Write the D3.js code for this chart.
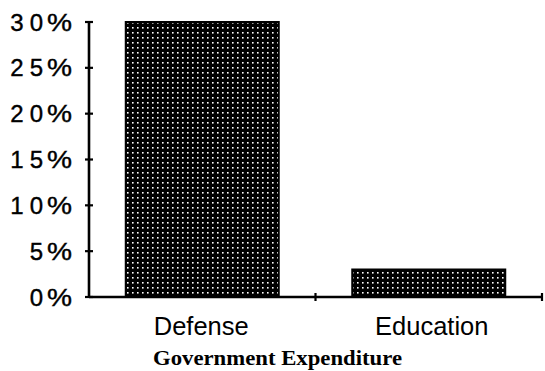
<!DOCTYPE html>
<html><head><meta charset="utf-8">
<script src="https://cdn.jsdelivr.net/npm/d3@7"></script>
<style>html,body{margin:0;padding:0;background:#fff;}svg{display:block;}</style>
</head><body>
<script>
const categories = ["Defense", "Education"];
const values = [30, 3];
const yTicks = [0, 5, 10, 15, 20, 25, 30];
const yTickLabels = ["0%", "5%", "10%", "15%", "20%", "25%", "30%"];
const xTitle = "Government Expenditure";

const W = 545, H = 371;
const svg = d3.select("body").append("svg").attr("width", W).attr("height", H);

const defs = svg.append("defs");
const pat = defs.append("pattern").attr("id", "dots").attr("patternUnits", "userSpaceOnUse")
  .attr("width", 5).attr("height", 5);
pat.append("rect").attr("width", 5).attr("height", 5).attr("fill", "#000");
pat.append("rect").attr("x", 2).attr("y", 2).attr("width", 1.6).attr("height", 1.6).attr("fill", "#fff");

const x0 = 89, x1 = 542, yTop = 22, yBot = 297;
const x = d3.scaleBand().domain(categories).range([x0, x1]).paddingInner(0).paddingOuter(0);
const y = d3.scaleLinear().domain([0, 30]).range([yBot, yTop]);
const barW = 153;

// bars
svg.selectAll("rect.bar").data(categories).enter().append("rect")
  .attr("class", "bar")
  .attr("x", (d) => x(d) + x.bandwidth() / 2 - barW / 2)
  .attr("y", (d, i) => y(values[i]))
  .attr("width", barW)
  .attr("height", (d, i) => y(0) - y(values[i]))
  .attr("fill", "url(#dots)")
  .attr("stroke", "#000").attr("stroke-width", 2);

// y axis labels (digits in fixed cells, % sign after)
const font = "Liberation Sans, Arial, sans-serif";
const gy = svg.append("g");
yTicks.forEach((t, i) => {
  const lab = yTickLabels[i];
  const digits = lab.replace("%", "").split("");
  const yy = y(t);
  digits.forEach((ch, k) => {
    const fromRight = digits.length - 1 - k;
    gy.append("text")
      .attr("x", x0 - 52.5 - 19.5 * fromRight).attr("y", yy).attr("dy", "0.36em")
      .attr("text-anchor", "middle")
      .attr("font-family", font).attr("font-size", 24).attr("fill", "#000")
      .attr("stroke", "#000").attr("stroke-width", 0.4)
      .text(ch);
  });
  gy.append("text")
    .attr("x", x0 - 42).attr("y", yy).attr("dy", "0.36em")
    .attr("font-family", font).attr("font-size", 24).attr("fill", "#000")
    .attr("stroke", "#000").attr("stroke-width", 0.4)
    .attr("textLength", 25).attr("lengthAdjust", "spacingAndGlyphs")
    .text("%");
});
svg.append("line").attr("x1", x0).attr("x2", x0).attr("y1", yTop - 1).attr("y2", yBot + 1)
  .attr("stroke", "#000").attr("stroke-width", 2.6);
svg.selectAll("line.ytick").data(yTicks).enter().append("line").attr("class", "ytick")
  .attr("x1", x0 - 4).attr("x2", x0 + 4)
  .attr("y1", (d) => y(d)).attr("y2", (d) => y(d))
  .attr("stroke", "#000").attr("stroke-width", 2.2);

// x axis
svg.append("line").attr("x1", x0).attr("x2", x1).attr("y1", yBot).attr("y2", yBot)
  .attr("stroke", "#000").attr("stroke-width", 2.4);
const xTickPos = categories.map((c) => x(c) + x.bandwidth());
svg.selectAll("line.xtick").data(xTickPos).enter().append("line").attr("class", "xtick")
  .attr("x1", (d) => d).attr("x2", (d) => d)
  .attr("y1", yBot - 4).attr("y2", yBot + 4)
  .attr("stroke", "#000").attr("stroke-width", 2.2);

svg.selectAll("text.cat").data(categories).enter().append("text").attr("class", "cat")
  .attr("x", (d) => x(d) + x.bandwidth() / 2 - (d === "Defense" ? 1 : -3))
  .attr("y", 335)
  .attr("text-anchor", "middle")
  .attr("font-family", font)
  .attr("font-size", 25.5).attr("fill", "#000")
  .text((d) => d);

svg.append("text").attr("x", 153).attr("y", 365)
  .attr("font-family", "Liberation Serif, Times New Roman, serif")
  .attr("font-size", 20.5).attr("font-weight", "bold").attr("fill", "#000")
  .attr("textLength", 249).attr("lengthAdjust", "spacingAndGlyphs")
  .text(xTitle);
</script>
</body></html>
